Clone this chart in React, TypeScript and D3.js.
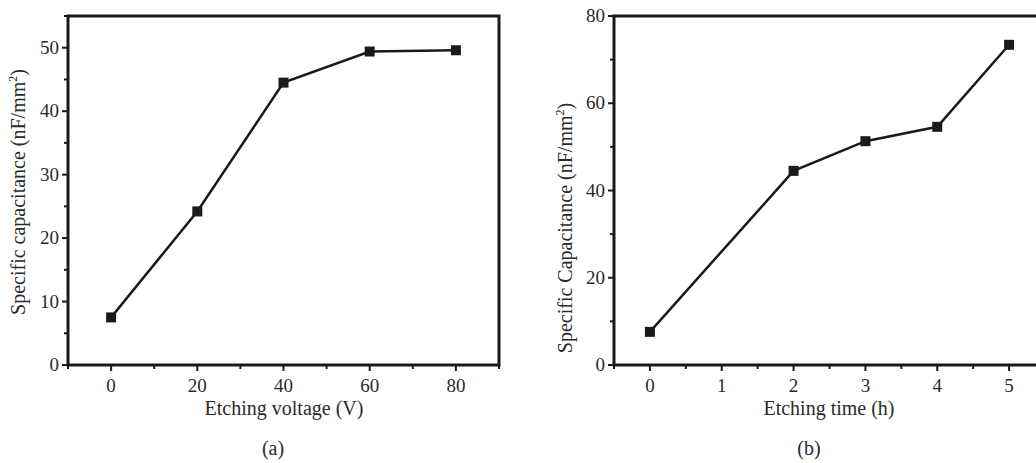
import * as d3 from "d3";
import { useEffect, useRef } from "react";

// panel (a): etching voltage
const voltage = [0, 20, 40, 60, 80];
const capVoltage = [7.5, 24.2, 44.5, 49.4, 49.6];
const voltageTicks = [0, 20, 40, 60, 80];
const capVoltageTicks = [0, 10, 20, 30, 40, 50];

// panel (b): etching time
const time = [0, 2, 3, 4, 5];
const capTime = [7.6, 44.5, 51.3, 54.6, 73.4];
const timeTicks = [0, 1, 2, 3, 4, 5];
const capTimeTicks = [0, 20, 40, 60, 80];

const font = "Liberation Serif, Times New Roman, serif";
const ink = "#1a1a1a";
const textInk = "#2a2a2a";

function drawPanel(svg, opts) {
  const { left, right, top, bottom, xDomain, yDomain, xs, ys, xTicks, yTicks, xMinor, yMinor, xTitle, xTitleX, yTitle, yTitleX, yTitleY, label } = opts;
  const g = svg.append("g");
  const x = d3.scaleLinear().domain(xDomain).range([left, right]);
  const y = d3.scaleLinear().domain(yDomain).range([bottom, top]);

  // frame
  g.append("rect")
    .attr("x", left)
    .attr("y", top)
    .attr("width", right - left)
    .attr("height", bottom - top)
    .attr("fill", "none")
    .attr("stroke", ink)
    .attr("stroke-width", 3);

  // x ticks
  xMinor.forEach((t) => {
    const major = xTicks.includes(t);
    g.append("line")
      .attr("x1", x(t)).attr("x2", x(t))
      .attr("y1", bottom).attr("y2", bottom + (major ? 6 : 4))
      .attr("stroke", ink).attr("stroke-width", 2);
  });
  xTicks.forEach((t) => {
    g.append("text")
      .attr("x", x(t)).attr("y", bottom + 27)
      .attr("text-anchor", "middle")
      .attr("font-family", font).attr("font-size", 19).attr("fill", textInk)
      .text(t);
  });

  // y ticks
  yMinor.forEach((t) => {
    const major = yTicks.includes(t);
    g.append("line")
      .attr("x1", left).attr("x2", left - (major ? 6 : 4))
      .attr("y1", y(t)).attr("y2", y(t))
      .attr("stroke", ink).attr("stroke-width", 2);
  });
  yTicks.forEach((t) => {
    g.append("text")
      .attr("x", left - 9).attr("y", y(t) + 6)
      .attr("text-anchor", "end")
      .attr("font-family", font).attr("font-size", 19).attr("fill", textInk)
      .text(t);
  });

  // line + markers
  const pts = xs.map((v, i) => [x(v), y(ys[i])]);
  g.append("path")
    .attr("d", d3.line()(pts))
    .attr("fill", "none")
    .attr("stroke", ink)
    .attr("stroke-width", 2.5);
  g.selectAll("rect.mk")
    .data(pts)
    .join("rect")
    .attr("class", "mk")
    .attr("x", (d) => d[0] - 5)
    .attr("y", (d) => d[1] - 5)
    .attr("width", 10)
    .attr("height", 10)
    .attr("fill", ink);

  // titles
  g.append("text")
    .attr("x", xTitleX)
    .attr("y", bottom + 50)
    .attr("text-anchor", "middle")
    .attr("font-family", font).attr("font-size", 20).attr("fill", textInk)
    .text(xTitle);
  const yt = g.append("text")
    .attr("transform", `translate(${yTitleX},${yTitleY}) rotate(-90)`)
    .attr("text-anchor", "middle")
    .attr("font-family", font).attr("font-size", 20).attr("fill", textInk);
  yt.append("tspan").text(yTitle);
  yt.append("tspan").attr("font-size", 12).attr("dy", -8).text("2");
  yt.append("tspan").attr("dy", 8).text(")");

  g.append("text")
    .attr("x", label[0]).attr("y", label[1])
    .attr("text-anchor", "middle")
    .attr("font-family", font).attr("font-size", 20).attr("fill", textInk)
    .text(label[2]);
}

export default function App() {
  const ref = useRef(null);
  useEffect(() => {
    const svg = d3.select(ref.current);
    svg.selectAll("*").remove();
    drawPanel(svg, {
      left: 68, right: 499, top: 16, bottom: 365,
      xDomain: [-10, 90], yDomain: [0, 55],
      xs: voltage, ys: capVoltage,
      xTicks: voltageTicks, yTicks: capVoltageTicks,
      xMinor: d3.range(-10, 91, 10), yMinor: d3.range(0, 56, 5),
      xTitle: "Etching voltage (V)", xTitleX: 284,
      yTitle: "Specific capacitance (nF/mm",
      yTitleX: 25, yTitleY: 192,
      label: [273, 455, "(a)"],
    });
    drawPanel(svg, {
      left: 614, right: 1045, top: 16, bottom: 365,
      xDomain: [-0.5, 5.5], yDomain: [0, 80],
      xs: time, ys: capTime,
      xTicks: timeTicks, yTicks: capTimeTicks,
      xMinor: d3.range(-0.5, 5.51, 0.5), yMinor: d3.range(0, 81, 10),
      xTitle: "Etching time (h)", xTitleX: 829,
      yTitle: "Specific Capacitance (nF/mm",
      yTitleX: 572, yTitleY: 228,
      label: [809, 455, "(b)"],
    });
  }, []);
  return (
    <svg
      ref={ref}
      width={1036}
      height={463}
      style={{ position: "absolute", left: 0, top: 0, background: "#fff" }}
    />
  );
}
